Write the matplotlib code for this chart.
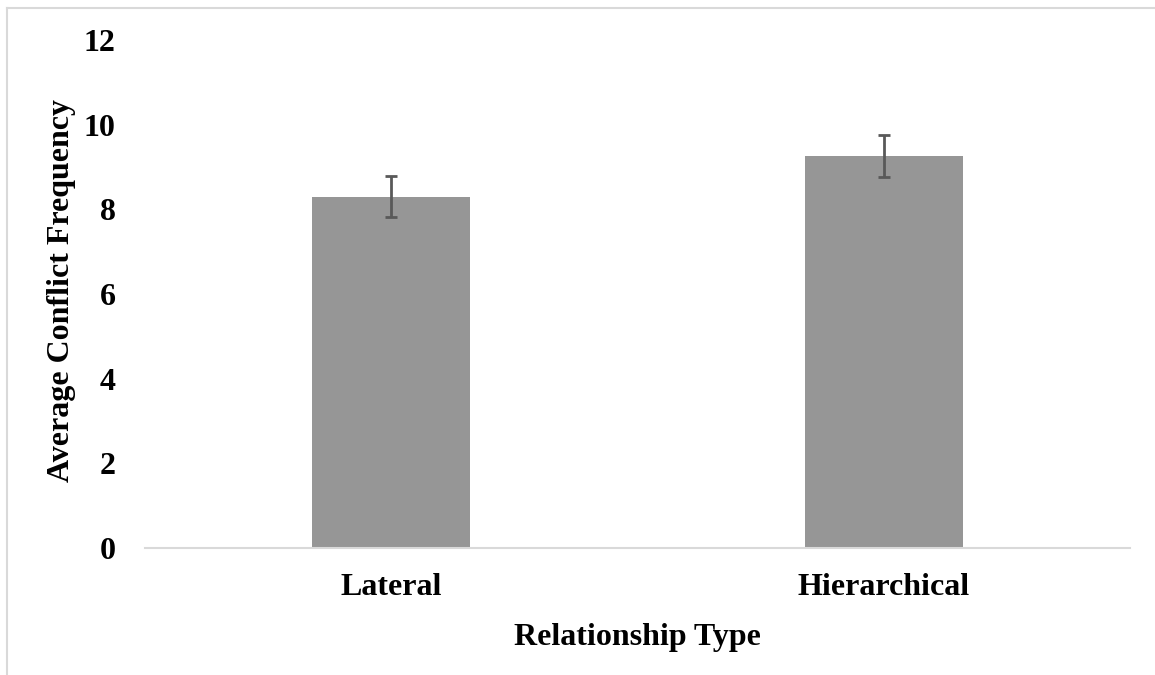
import numpy as np
import matplotlib.pyplot as plt
from matplotlib.lines import Line2D

categories = ["Lateral", "Hierarchical"]
means = [8.3, 9.26]
errors = [0.485, 0.495]
y_ticks = [0, 2, 4, 6, 8, 10, 12]

plt.rcParams['font.family'] = ['Liberation Serif', 'DejaVu Serif']
plt.rcParams['font.weight'] = 'bold'

W, H = 1155, 675
fig = plt.figure(figsize=(W / 100, H / 100), dpi=100)
ax = fig.add_axes([145 / W, 1 - 548 / H, (1130 - 145) / W, (548 - 40) / H])

x = np.arange(len(categories))
ax.bar(x, means, width=0.32, color='#969696', zorder=2)
ax.errorbar(x, means, yerr=errors, fmt='none', ecolor='#595959',
            elinewidth=2, capsize=4.5, capthick=2, zorder=3)

ax.set_xlim(-0.5, 1.5)
ax.set_ylim(0, 12)
ax.set_yticks(y_ticks)
ax.set_xticks(x)
ax.set_xticklabels(categories)
ax.tick_params(axis='both', length=0, labelsize=23)
ax.tick_params(axis='y', pad=21)
ax.tick_params(axis='x', pad=18)
for lab in ax.get_xticklabels() + ax.get_yticklabels():
    lab.set_fontweight('bold')

for side in ['top', 'right', 'left']:
    ax.spines[side].set_visible(False)
ax.spines['bottom'].set_color('#d9d9d9')
ax.spines['bottom'].set_linewidth(1.5)

ax.set_xlabel("Relationship Type", fontsize=23, fontweight='bold', labelpad=15)
fig.text(62 / W, 1 - 291 / H, "Average Conflict Frequency", rotation=90,
         fontsize=23, fontweight='bold', ha='center', va='center')

# light frame (top and left edges visible in the crop)
fig.add_artist(Line2D([7 / W, 1], [1 - 8 / H, 1 - 8 / H], color='#d9d9d9', lw=1.5))
fig.add_artist(Line2D([7 / W, 7 / W], [0, 1 - 8 / H], color='#d9d9d9', lw=1.5))

fig.savefig("out.png", dpi=100)
